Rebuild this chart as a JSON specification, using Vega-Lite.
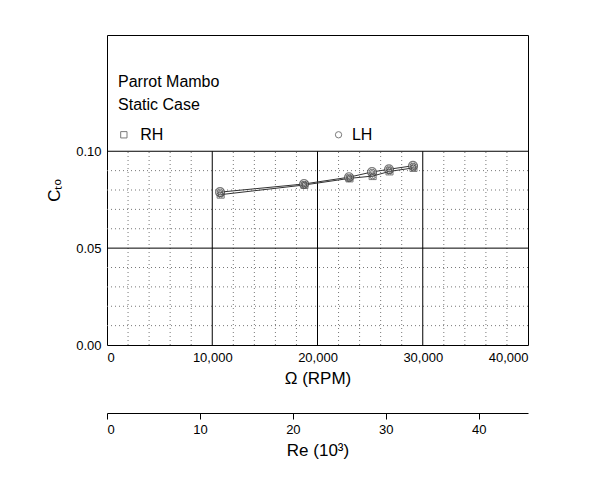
{
  "$schema": "https://vega.github.io/schema/vega-lite/v6.json",
  "width": 421,
  "height": 310,
  "autosize": "none",
  "padding": {"left": 107, "top": 35, "right": 84, "bottom": 141},
  "config": {"font": "Liberation Sans", "view": {"stroke": "#000", "strokeWidth": 1}},
  "datasets": {
    "pts": [
      {"rpm": 10740, "ct": 0.0789, "side": "LH"},
      {"rpm": 18720, "ct": 0.0831, "side": "LH"},
      {"rpm": 22990, "ct": 0.0866, "side": "LH"},
      {"rpm": 25180, "ct": 0.0893, "side": "LH"},
      {"rpm": 26790, "ct": 0.0907, "side": "LH"},
      {"rpm": 29070, "ct": 0.0925, "side": "LH"},
      {"rpm": 10800, "ct": 0.0776, "side": "RH"},
      {"rpm": 18760, "ct": 0.0826, "side": "RH"},
      {"rpm": 23040, "ct": 0.0860, "side": "RH"},
      {"rpm": 25240, "ct": 0.0872, "side": "RH"},
      {"rpm": 26840, "ct": 0.0896, "side": "RH"},
      {"rpm": 29120, "ct": 0.0914, "side": "RH"}
    ],
    "minorx": [{"x": 2000}, {"x": 4000}, {"x": 6000}, {"x": 8000}, {"x": 12000}, {"x": 14000}, {"x": 16000}, {"x": 18000}, {"x": 22000}, {"x": 24000}, {"x": 26000}, {"x": 28000}, {"x": 32000}, {"x": 34000}, {"x": 36000}, {"x": 38000}],
    "minory": [{"y": 0.01}, {"y": 0.02}, {"y": 0.03}, {"y": 0.04}, {"y": 0.06}, {"y": 0.07}, {"y": 0.08}, {"y": 0.09}],
    "majorx": [{"x": 10000}, {"x": 20000}, {"x": 30000}],
    "majory": [{"y": 0.05}, {"y": 0.1}],
    "labels": [
      {"x": 1050, "y": 0.1357, "t": "Parrot Mambo"},
      {"x": 1050, "y": 0.1239, "t": "Static Case"},
      {"x": 3150, "y": 0.1085, "t": "RH"},
      {"x": 23270, "y": 0.1085, "t": "LH"}
    ],
    "legsym": [
      {"x": 1600, "y": 0.1085, "side": "RH"},
      {"x": 22000, "y": 0.1085, "side": "LH"}
    ],
    "re": [{"re": 0}, {"re": 45.3}]
  },
  "layer": [
    {
      "layer": [
        {
          "data": {"name": "minorx"},
          "mark": {"type": "rule", "color": "#777", "strokeDash": [1, 3], "strokeWidth": 1},
          "encoding": {
            "x": {"field": "x", "type": "quantitative", "scale": {"domain": [0, 40000]}, "axis": {"orient": "bottom", "values": [0, 10000, 20000, 30000, 40000], "format": ",d", "title": "Ω (RPM)", "grid": false, "domain": false, "ticks": false, "labelFontSize": 13, "labelColor": "#000", "titleFontSize": 17, "titleFontWeight": "normal", "titleColor": "#000", "labelPadding": 6, "titlePadding": 6}},
            "y": {"datum": 0, "type": "quantitative", "scale": {"domain": [0, 0.1455]}, "axis": {"values": [0, 0.05, 0.1], "format": ".2f", "title": "Cₜₒ", "grid": false, "ticks": false, "domain": false, "labelFontSize": 13, "labelColor": "#000", "titleFontSize": 17, "titleFontWeight": "normal", "titleColor": "#000", "labelPadding": 6, "titlePadding": 12}},
            "y2": {"datum": 0.1}
          }
        },
        {
          "data": {"name": "minory"},
          "mark": {"type": "rule", "color": "#777", "strokeDash": [1, 3], "strokeWidth": 1},
          "encoding": {
            "y": {"field": "y", "type": "quantitative"},
            "x": {"datum": 0, "type": "quantitative"},
            "x2": {"datum": 40000}
          }
        },
        {
          "data": {"name": "majorx"},
          "mark": {"type": "rule", "color": "#000", "strokeWidth": 1},
          "encoding": {
            "x": {"field": "x", "type": "quantitative"},
            "y": {"datum": 0, "type": "quantitative"},
            "y2": {"datum": 0.1}
          }
        },
        {
          "data": {"name": "majory"},
          "mark": {"type": "rule", "color": "#000", "strokeWidth": 1},
          "encoding": {
            "y": {"field": "y", "type": "quantitative"},
            "x": {"datum": 0, "type": "quantitative"},
            "x2": {"datum": 40000}
          }
        },
        {
          "data": {"name": "pts"},
          "mark": {"type": "line", "color": "#333", "strokeWidth": 1},
          "encoding": {
            "x": {"field": "rpm", "type": "quantitative"},
            "y": {"field": "ct", "type": "quantitative"},
            "detail": {"field": "side"}
          }
        },
        {
          "data": {"name": "pts"},
          "transform": [{"filter": "datum.side == 'RH'"}],
          "mark": {"type": "point", "shape": "square", "size": 50, "color": "#444", "filled": false, "strokeWidth": 1},
          "encoding": {
            "x": {"field": "rpm", "type": "quantitative"},
            "y": {"field": "ct", "type": "quantitative"}
          }
        },
        {
          "data": {"name": "pts"},
          "transform": [{"filter": "datum.side == 'LH'"}],
          "mark": {"type": "point", "shape": "circle", "size": 80, "color": "#444", "fill": "#ddd", "filled": false, "strokeWidth": 1.2},
          "encoding": {
            "x": {"field": "rpm", "type": "quantitative"},
            "y": {"field": "ct", "type": "quantitative"}
          }
        },
        {
          "data": {"name": "pts"},
          "mark": {"type": "point", "shape": "cross", "angle": 45, "size": 30, "color": "#444", "filled": false, "strokeWidth": 1},
          "encoding": {
            "x": {"field": "rpm", "type": "quantitative"},
            "y": {"field": "ct", "type": "quantitative"}
          }
        },
        {
          "data": {"name": "legsym"},
          "mark": {"type": "point", "size": 40, "color": "#444", "filled": false, "strokeWidth": 1},
          "encoding": {
            "x": {"field": "x", "type": "quantitative"},
            "y": {"field": "y", "type": "quantitative"},
            "shape": {"field": "side", "type": "nominal", "scale": {"domain": ["RH", "LH"], "range": ["square", "circle"]}, "legend": null}
          }
        },
        {
          "data": {"name": "labels"},
          "mark": {"type": "text", "align": "left", "baseline": "middle", "fontSize": 16, "color": "#000"},
          "encoding": {
            "x": {"field": "x", "type": "quantitative"},
            "y": {"field": "y", "type": "quantitative"},
            "text": {"field": "t"}
          }
        }
      ]
    },
    {
      "data": {"name": "re"},
      "mark": {"type": "point", "opacity": 0},
      "encoding": {
        "x": {"field": "re", "type": "quantitative", "scale": {"domain": [0, 45.3], "nice": false}, "axis": {"orient": "bottom", "values": [0, 10, 20, 30, 40], "offset": 68, "title": "Re (10³)", "grid": false, "domainColor": "#000", "tickColor": "#000", "tickSize": 6, "labelFontSize": 13, "labelColor": "#000", "titleFontSize": 17, "titleFontWeight": "normal", "titleColor": "#000", "labelPadding": 4, "titlePadding": 6}},
        "y": {"datum": 0, "type": "quantitative"}
      }
    }
  ],
  "resolve": {"scale": {"x": "independent"}, "axis": {"x": "independent"}}
}
